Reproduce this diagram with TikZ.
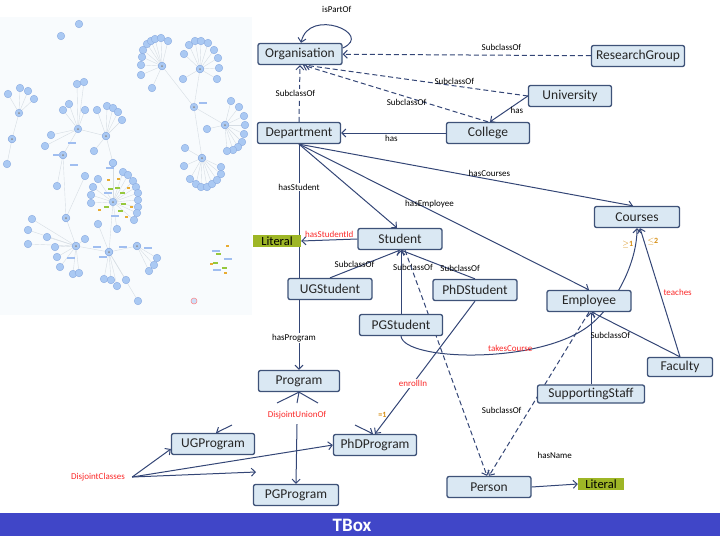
\documentclass[tikz,border=0pt]{standalone}
\usepackage{fontspec}
\setmainfont{Carlito}
\usetikzlibrary{arrows.meta}

\definecolor{clsfill}{RGB}{218,232,243}
\definecolor{clsline}{RGB}{62,82,120}
\definecolor{edgeblue}{RGB}{52,70,118}
\definecolor{litgreen}{RGB}{158,182,38}
\definecolor{labred}{RGB}{250,40,40}
\definecolor{laborange}{RGB}{214,142,20}
\definecolor{barblue}{RGB}{64,70,200}
\definecolor{panelbg}{RGB}{248,251,253}
\definecolor{dotblue}{RGB}{170,201,243}
\definecolor{dotedge}{RGB}{140,172,225}
\definecolor{spokegray}{RGB}{214,221,228}
\definecolor{bitgreen}{RGB}{150,200,60}
\definecolor{bitorange}{RGB}{232,172,50}
\definecolor{bitblue}{RGB}{160,190,240}

\pgfdeclarelayer{background}
\pgfdeclarelayer{edges}
\pgfsetlayers{background,edges,main}

% hub / neighbours of the overview graph
\def\overviewgraph{
    162/66/{141/75,141/65,142/57,143/50,147/44,151/41,155/39,161/38,168/41,152/88},
    200/69/{184/54,189/45,195/41,201/41,208/43,214/50,218/58,219/68,217/79,183/79},
    225/125/{231/101,239/107,244/116,245/125,244/134,242/142,238/147,233/150,227/151,207/129},
    202/158/{185/148,184/166,190/179,196/184,201/187,207/187,212/184,217/180,221/174,221/167},
    194/107/{162/66,200/69,225/125,202/158},
    19/113/{8/94,20/88,28/91,34/99,12/139},
    12/139/{7/164},
    113/202/{98/179,93/187,91/195,91/203,123/172,128/175,133/181,136/187,138/193,138/200,138/207,137/213,134/220,113/163,117/229,109/252},
    78/129/{77/84,84/82,69/104,63/110,85/110,51/135,45/146,63/155,106/136},
    106/136/{97/110,107/106,113/108,118/112,122/120,94/151,113/163},
    63/155/{57/186,66/218},
    66/218/{76/246,85/176},
    76/246/{32/219,28/230,28/244,47/237,55/247,57/257,60/267,73/274,79/273,85/239,109/252},
    109/252/{98/224,104/279,111/280,117/286,126/280,138/301,137/246},
    137/246/{157/258,154/265,149/271}}

\begin{document}
\begin{tikzpicture}[x=1pt,y=-1pt,
    cls/.style={draw=clsline,line width=1.3pt,fill=clsfill,rounded corners=2pt,
      minimum height=21pt,inner sep=0pt,text=black!85,font=\fontsize{13.5}{13.5}\selectfont},
    lit/.style={fill=litgreen,minimum height=12pt,minimum width=48pt,inner sep=0pt,
      font=\fontsize{12.5}{12.5}\selectfont},
    rel/.style={draw=edgeblue,line width=1pt,-{Straight Barb[length=4pt,width=8pt]}},
    sub/.style={rel,dash pattern=on 5pt off 3pt},
    link/.style={draw=edgeblue,line width=1pt},
    lab/.style={font=\fontsize{9}{9}\selectfont,inner sep=1pt},
    rlab/.style={lab,text=labred},
    olab/.style={lab,text=laborange,font=\bfseries\fontsize{8}{8}\selectfont},
    dot/.style={fill=dotblue,draw=dotedge,line width=0.4pt}]
\useasboundingbox (0,0) rectangle (720,536);

% overview graph (left)
\begin{pgfonlayer}{background}
\fill[panelbg] (0,17) rectangle (252,315);
\foreach \hx/\hy/\pts in \overviewgraph {
  \foreach \px/\py in \pts {\draw[spokegray,line width=0.4pt] (\hx,\hy) -- (\px,\py);}
}
\foreach \hx/\hy/\pts in \overviewgraph {
  \foreach \px/\py in \pts {\filldraw[dot] (\px,\py) circle[radius=3.8];}
}
\foreach \hx/\hy/\pts in \overviewgraph {
  \filldraw[dot] (\hx,\hy) circle[radius=3.8];
  \fill[black!45] (\hx,\hy) circle[radius=1];
}
\foreach \px/\py in {79/24,61/36} {\filldraw[dot] (\px,\py) circle[radius=3.8];}
\draw[red!50,fill=dotblue!60,line width=0.5pt] (194,301) circle[radius=3];
% small labels of the overview graph
\foreach \px/\py in {110/189,117/188,122/193,123/204,106/207,120/211,218/254,224/268,215/263}
  {\fill[bitgreen] (\px-2.5,\py-1) rectangle (\px+2.5,\py+1);}
\foreach \px/\py in {108/180,118/179,128/188,131/207,126/217,99/210,227/246,211/264,225/273}
  {\fill[bitorange] (\px-1.5,\py-1) rectangle (\px+1.5,\py+1);}
\foreach \px/\py in {108/193,115/216,110/168,72/143,74/165,57/155,97/247,71/258,103/257,
    123/247,148/248,203/103,216/251,228/259,217/270}
  {\fill[bitblue] (\px-4,\py-1) rectangle (\px+4,\py+1);}
\end{pgfonlayer}

% classes
\node[cls,minimum width=84pt] (org) at (300,54) {Organisation};
\node[cls,minimum width=93pt] (rg) at (638,56) {ResearchGroup};
\node[cls,minimum width=83pt] (uni) at (570,96) {University};
\node[cls,minimum width=83pt] (coll) at (488,133) {College};
\node[cls,minimum width=83pt] (dep) at (299,133) {Department};
\node[cls,minimum width=85pt] (cou) at (637,217) {Courses};
\node[cls,minimum width=84pt] (stu) at (400,239) {Student};
\node[cls,minimum width=84pt] (ugs) at (330,289) {UGStudent};
\node[cls,minimum width=84pt] (phds) at (475,290) {PhDStudent};
\node[cls,minimum width=83pt] (pgs) at (401,325) {PGStudent};
\node[cls,minimum width=84pt] (emp) at (589,301) {Employee};
\node[cls,minimum width=65pt,minimum height=19pt] (fac) at (680,367) {Faculty};
\node[cls,minimum width=107pt,minimum height=18pt] (staff) at (591,394) {SupportingStaff};
\node[cls,minimum width=81pt] (prog) at (299,381) {Program};
\node[cls,minimum width=83pt] (ugp) at (213,444) {UGProgram};
\node[cls,minimum width=83pt] (phdp) at (375,445) {PhDProgram};
\node[cls,minimum width=85pt] (pgp) at (296,495) {PGProgram};
\node[cls,minimum width=84pt] (pers) at (489,487) {Person};
\node[lit] (lit1) at (277,241) {Literal};
\node[lit,minimum width=46pt] (lit2) at (601,484) {Literal};

\node[rlab] (du) at (297,415) {DisjointUnionOf};
\node[rlab] (dc) at (98,477) {DisjointClasses};
\coordinate (duL) at (277,403);
\coordinate (duM) at (297,403);
\coordinate (duR) at (318,403);
\coordinate (duUG) at (232,425);
\coordinate (duPhD) at (355,425);
\coordinate (dcEnd) at (256,472);
\coordinate (tc) at (590,325);

% relations
\begin{pgfonlayer}{edges}
\draw[rel] ([yshift=6pt]org.east) .. controls +(32,-14) and +(8,-36) .. ([xshift=1pt]org.north)
  node[lab,pos=0.5,above=13pt] {isPartOf};
\draw[sub] (rg) -- node[lab,pos=0.36,above=3pt] {SubclassOf} (org);
\draw[sub] (uni.west) -- node[lab,pos=0.33,above=0pt] {SubclassOf} ([xshift=5pt]org.south);
\draw[sub] (coll.north) -- node[lab,pos=0.44,below=1pt] {SubclassOf} ([xshift=3pt]org.south);
\draw[sub] (dep.north) -- node[lab,fill=white,xshift=-4pt] {SubclassOf} (org.south);
\draw[rel] (uni.west) -- node[lab,pos=0.55,right=2pt] {has} ([xshift=2pt]coll.north);
\draw[rel] (coll.west) -- node[lab,pos=0.52,below=1pt] {has} (dep.east);

\draw[rel] (dep.south) -- ([xshift=-3pt]stu.north);
\draw[rel] (dep.south) -- node[lab,pos=0.45,above=0pt] {hasEmployee} (emp.north);
\draw[rel] (dep.south) -- node[lab,pos=0.57,above=1pt] {hasCourses} ([xshift=-4pt]cou.north);
\draw[rel] (dep.south) -- node[lab,pos=0.19,fill=white] {hasStudent}
  node[lab,pos=0.86,fill=white,xshift=-5pt] {hasProgram} (prog.north);

\draw[rel] (stu.west) -- node[rlab,above=1pt] {hasStudentId} (lit1.east);
\draw[rel] (ugs.north) -- node[lab,pos=0.35,above=-1pt] {SubclassOf} (stu.south);
\draw[rel] (pgs.north) -- node[lab,pos=0.73,xshift=12pt] {SubclassOf} ([xshift=1pt]stu.south);
\draw[rel] (phds.north) -- node[lab,pos=0.2,above=0pt] {SubclassOf} ([xshift=1pt]stu.south);
\draw[sub] ([xshift=5pt]stu.south) -- ([xshift=-2pt]pers.north);
\draw[sub] (emp.south) -- node[lab,pos=0.6,left=6pt] {SubclassOf} (pers.north);
\draw[rel] (staff.north) -- node[lab,pos=0.68,right=-2pt] {SubclassOf} (staff.north |- emp.south);
\draw[rel] (fac.north) -- ([xshift=3pt]emp.south);
\draw[rel] (fac.north) -- node[rlab,right=2pt] {teaches}
  node[olab,pos=0.9,right=2pt] {$\leq$2} ([xshift=3pt]cou.south);
\draw[rel] (pgs.south) .. controls +(3,25) and +(-50,40) .. (tc)
  node[rlab,pos=0.63,above=-1pt] {takesCourse}
  .. controls +(25,-20) and +(0,35) .. (cou.south)
  node[olab,pos=0.85,left=1pt] {$\geq$1};
\draw[rel] (phds.south) -- node[rlab,pos=0.62,fill=white] {enrollIn}
  node[olab,pos=0.86,left=1pt] {=1} (phdp.north);

\draw[link] (prog.south) -- (duL);
\draw[link] (prog.south) -- (duM);
\draw[link] (prog.south) -- (duR);
\draw[rel] ([yshift=-4pt]du.south) -- (pgp.north);
\draw[rel] (duUG) -- ([xshift=3pt]ugp.north);
\draw[rel] (duPhD) -- ([xshift=-2pt]phdp.north);
\draw[rel] ([xshift=6pt]dc.east) -- ([yshift=-5pt]ugp.west);
\draw[rel] ([xshift=6pt]dc.east) -- (phdp.west);
\draw[rel] ([xshift=6pt]dc.east) -- (dcEnd);
\draw[rel] (pers.east) -- node[lab,above=25pt] {hasName} (lit2.west);
\end{pgfonlayer}

% caption bar
\fill[barblue] (0,513) rectangle (720,536);
\node[text=white,font=\bfseries\fontsize{19}{19}\selectfont] (tbox) at (352,525) {TBox};
\end{tikzpicture}
\end{document}
